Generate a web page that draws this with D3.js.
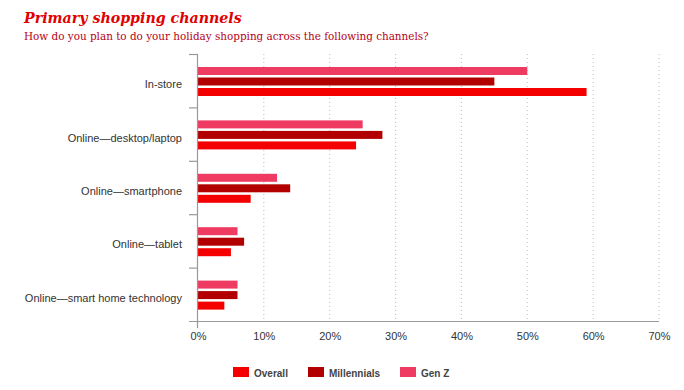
<!DOCTYPE html>
<html>
<head>
<meta charset="utf-8">
<script src="https://cdn.jsdelivr.net/npm/d3@7"></script>
<style>
  html, body { margin: 0; padding: 0; background: #fff; }
  svg { display: block; }
</style>
</head>
<body>
<svg id="chart" width="684" height="390"></svg>
<script>
const categories = ["In-store", "Online\u2014desktop/laptop", "Online\u2014smartphone", "Online\u2014tablet", "Online\u2014smart home technology"];
const seriesNames = ["Gen Z", "Millennials", "Overall"];
const genZ = [50, 25, 12, 6, 6];
const millennials = [45, 28, 14, 7, 6];
const overall = [59, 24, 8, 5, 4];
const xTicks = [0, 10, 20, 30, 40, 50, 60, 70];
const legendOrder = ["Overall", "Millennials", "Gen Z"];

const colors = { "Overall": "#f50000", "Millennials": "#b20000", "Gen Z": "#ef3a62" };
const valuesBySeries = { "Gen Z": genZ, "Millennials": millennials, "Overall": overall };

const svg = d3.select("#chart");
const plotLeft = 198, plotRight = 659, plotTop = 54, plotBottom = 321;

const x = d3.scaleLinear().domain([0, 70]).range([plotLeft, plotRight]);
const y = d3.scaleBand().domain(categories).range([plotTop, plotBottom]).padding(0);
const ySub = d3.scaleBand().domain(seriesNames).range([13, 42]).paddingInner(0.24).paddingOuter(0);

// Title
const title = svg.append("text").attr("x", 24).attr("y", 23)
  .attr("font-family", "'DejaVu Serif', serif").attr("font-weight", "bold").attr("font-style", "italic")
  .attr("font-size", 17).attr("fill", "#e00000").text("Primary shopping channels");
const sub = svg.append("text").attr("x", 24).attr("y", 40)
  .attr("font-family", "'DejaVu Serif', serif")
  .attr("font-size", 12).attr("fill", "#b50018").text("How do you plan to do your holiday shopping across the following channels?");
function fit(sel, target) {
  const w = sel.node().getComputedTextLength();
  const fs = +sel.attr("font-size");
  if (w > 0) sel.attr("font-size", (fs * target / w).toFixed(2));
}
fit(title, 218);
fit(sub, 405);

// Gridlines
svg.append("g").selectAll("line").data(xTicks.filter(d => d > 0)).join("line")
  .attr("x1", d => x(d)).attr("x2", d => x(d))
  .attr("y1", plotTop).attr("y2", plotBottom)
  .attr("stroke", "#bdbdbd").attr("stroke-width", 1).attr("stroke-dasharray", "1,3");

// Bars
const groups = svg.append("g").selectAll("g").data(categories).join("g")
  .attr("transform", d => `translate(0,${y(d)})`);
groups.selectAll("rect").data((c, i) => seriesNames.map(s => ({ s, v: valuesBySeries[s][i] }))).join("rect")
  .attr("x", x(0)).attr("y", d => ySub(d.s))
  .attr("width", d => x(d.v) - x(0)).attr("height", ySub.bandwidth())
  .attr("fill", d => colors[d.s]);

// X axis
const xAxis = svg.append("g").attr("transform", `translate(0,${plotBottom})`)
  .call(d3.axisBottom(x).tickValues(xTicks).tickFormat(d => d + "%").tickSize(0).tickPadding(11));
xAxis.select(".domain").remove();
xAxis.selectAll("text").attr("font-family", "'Liberation Sans', Arial, sans-serif").attr("font-size", 11).attr("fill", "#333");
svg.append("line").attr("x1", plotLeft - 9).attr("x2", plotRight).attr("y1", plotBottom + 0.5).attr("y2", plotBottom + 0.5)
  .attr("stroke", "#999").attr("stroke-width", 1.2);

// Y axis line and boundary ticks
svg.append("line").attr("x1", plotLeft - 0.5).attr("x2", plotLeft - 0.5).attr("y1", plotTop).attr("y2", plotBottom + 7)
  .attr("stroke", "#999").attr("stroke-width", 1.2);
const boundaries = categories.map(c => y(c));
svg.append("g").selectAll("line").data(boundaries).join("line")
  .attr("x1", plotLeft - 9).attr("x2", plotLeft).attr("y1", d => d + 0.5).attr("y2", d => d + 0.5)
  .attr("stroke", "#999").attr("stroke-width", 1.2);

// Category labels
svg.append("g").selectAll("text").data(categories).join("text")
  .attr("x", 182).attr("y", d => y(d) + y.bandwidth() / 2 + 7.5)
  .attr("text-anchor", "end")
  .attr("font-family", "'Liberation Sans', Arial, sans-serif").attr("font-size", 11).attr("fill", "#333")
  .text(d => d);

// Legend
const legendX = [233, 308, 400];
const lg = svg.append("g").selectAll("g").data(legendOrder).join("g")
  .attr("transform", (d, i) => `translate(${legendX[i]},367)`);
lg.append("rect").attr("width", 16).attr("height", 10).attr("fill", d => colors[d]);
lg.append("text").attr("x", 21).attr("y", 9.5)
  .attr("font-family", "'Liberation Sans', Arial, sans-serif").attr("font-weight", "bold")
  .attr("font-size", 10).attr("fill", "#444").text(d => d);
</script>
</body>
</html>
